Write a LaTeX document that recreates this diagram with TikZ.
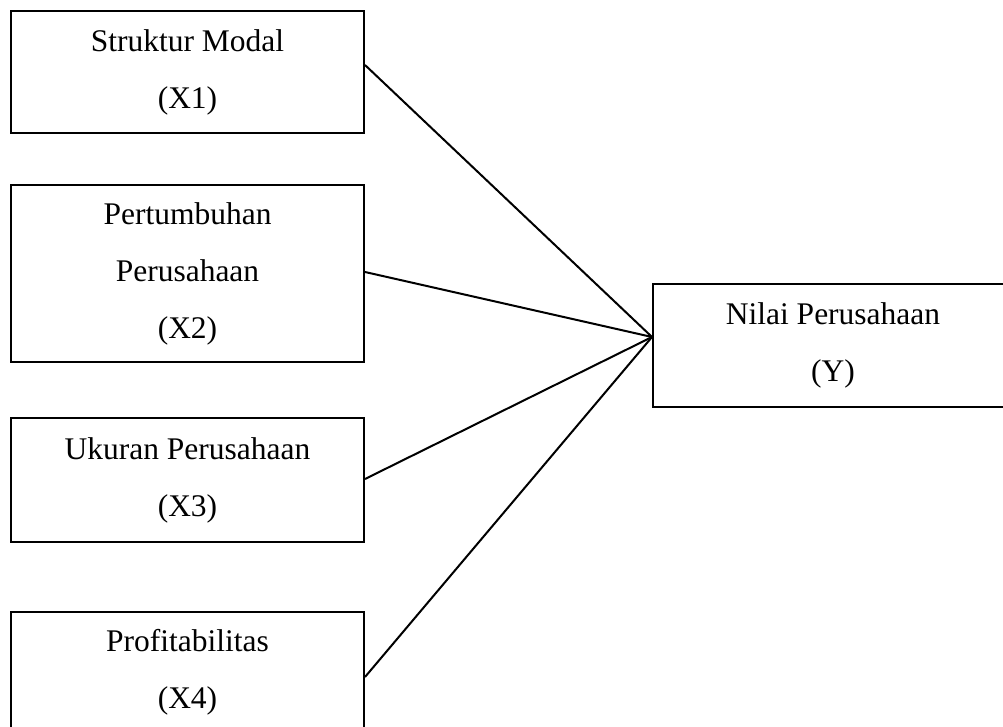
\documentclass[tikz,border=0pt]{standalone}
\usepackage{fontspec}
\setmainfont{Liberation Serif}
\begin{document}
\begin{tikzpicture}[x=1pt,y=-1pt,
  box/.style={draw=black, line width=2pt, inner sep=0pt, align=center,
    font=\fontsize{31.5}{57}\selectfont},
  link/.style={draw=black, line width=2pt}]
\useasboundingbox (0,0) rectangle (1003,727);
\begin{scope}
\clip (0,0) rectangle (1003,727);
\node[box, minimum width=353pt, minimum height=122pt] (x1) at (187.5,72) {Struktur Modal\\(X1)};
\node[box, minimum width=353pt, minimum height=177pt] (x2) at (187.5,273.5) {Pertumbuhan\\Perusahaan\\(X2)};
\node[box, minimum width=353pt, minimum height=124pt] (x3) at (187.5,480) {Ukuran Perusahaan\\(X3)};
\node[box, minimum width=353pt, minimum height=120pt] (x4) at (187.5,672) {Profitabilitas\\(X4)};
\node[box, minimum width=360pt, minimum height=123pt] (y) at (833,345) {Nilai Perusahaan\\(Y)};
\coordinate (hub) at ([yshift=8pt]y.west);
\draw[link] ([yshift=7pt]x1.east) -- (hub);
\draw[link] ([yshift=1.5pt]x2.east) -- (hub);
\draw[link] ([yshift=1pt]x3.east) -- (hub);
\draw[link] ([yshift=-5pt]x4.east) -- (hub);
\end{scope}
\end{tikzpicture}
\end{document}
